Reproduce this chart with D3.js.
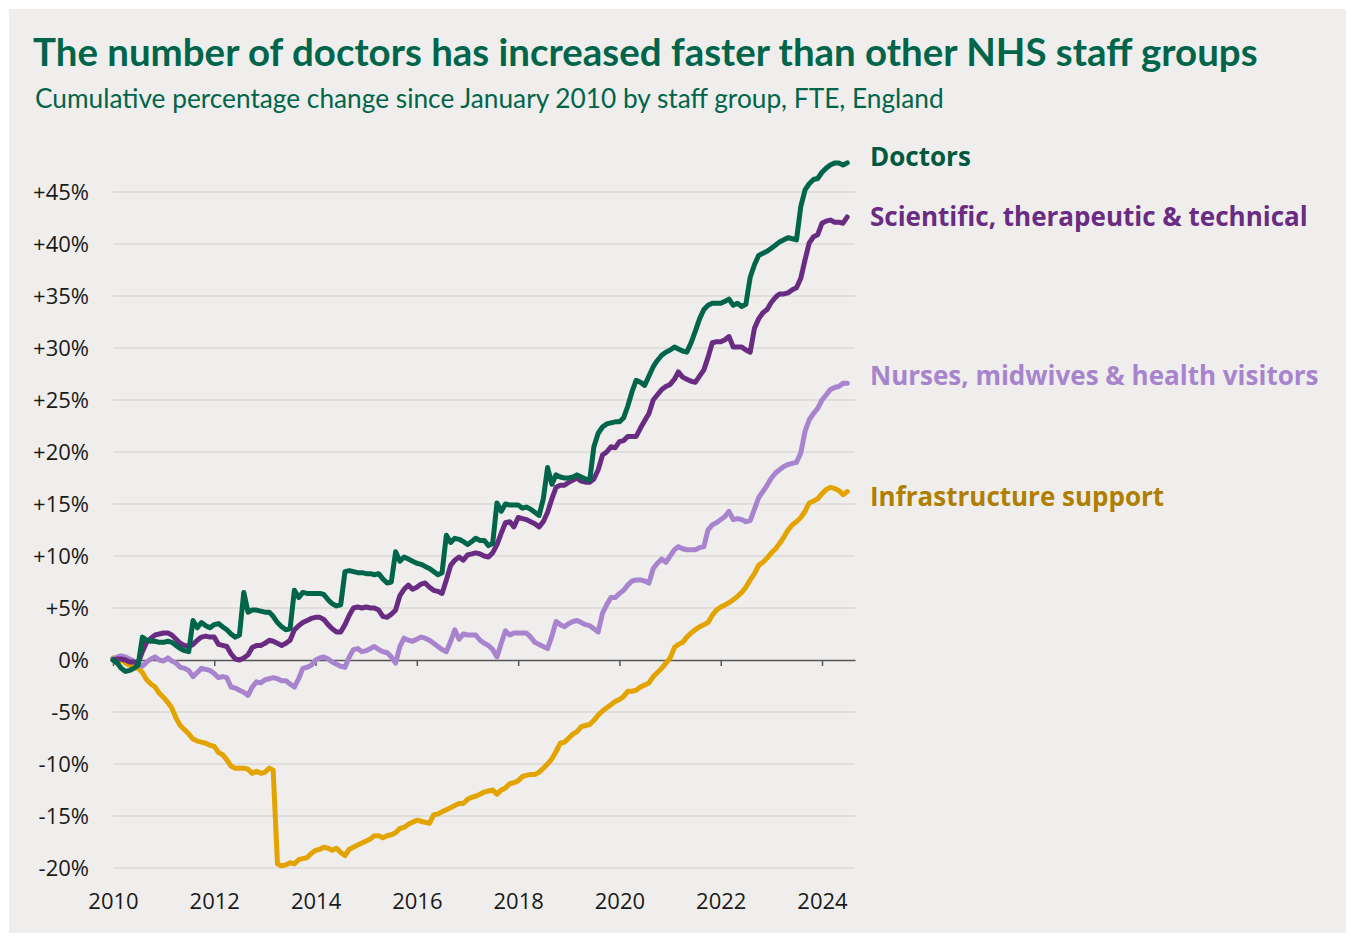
<!DOCTYPE html>
<html>
<head>
<meta charset="utf-8">
<script src="https://cdn.jsdelivr.net/npm/d3@7"></script>
<style>
  body { margin: 0; background: #fff; }
  svg { display: block; }
</style>
</head>
<body>
<script>
// monthly values, Jan 2010 .. Jul 2024 (% change since Jan 2010)
const doctors = [
  0, -0.3, -0.8, -1.1, -1.0, -0.8, -0.5, 2.2, 1.9, 1.8, 1.8, 1.7,
  1.7, 1.8, 1.7, 1.4, 1.1, 0.9, 0.8, 3.8, 3.1, 3.6, 3.3, 3.1,
  3.4, 3.5, 3.2, 2.9, 2.5, 2.2, 2.4, 6.5, 4.6, 4.8, 4.8, 4.7,
  4.6, 4.6, 4.2, 3.6, 3.2, 2.9, 3.0, 6.7, 6.0, 6.5, 6.4, 6.4,
  6.4, 6.4, 6.3, 5.8, 5.4, 5.2, 5.3, 8.5, 8.6, 8.5, 8.4, 8.4,
  8.3, 8.3, 8.2, 8.3, 7.8, 7.4, 7.5, 10.4, 9.5, 9.9, 9.7, 9.5,
  9.3, 9.2, 9.0, 8.8, 8.5, 8.2, 8.4, 12.0, 11.3, 11.7, 11.6, 11.4,
  11.1, 11.4, 11.7, 11.5, 11.5, 11.0, 11.2, 15.1, 14.3, 15.0, 14.9, 14.9,
  14.9, 14.6, 14.7, 14.5, 14.2, 13.9, 15.5, 18.5, 16.9, 17.8, 17.6, 17.5,
  17.5, 17.6, 17.8, 17.6, 17.4, 17.3, 20.5, 21.8, 22.4, 22.7, 22.8, 22.9,
  22.9, 23.3, 24.4, 25.8, 26.9, 26.7, 26.4, 27.3, 28.2, 28.8, 29.3, 29.6,
  29.8, 30.1, 29.9, 29.7, 29.6, 30.5, 31.6, 32.8, 33.7, 34.1, 34.3, 34.3,
  34.3, 34.5, 34.7, 34.1, 34.3, 34.0, 34.2, 36.8, 38.0, 38.9, 39.1, 39.3,
  39.6, 39.9, 40.2, 40.4, 40.6, 40.5, 40.4, 43.6, 45.2, 45.8, 46.2, 46.3,
  46.9, 47.3, 47.6, 47.8, 47.8, 47.6, 47.8
];
const scientific = [
  0, 0.1, 0.1, 0.0, -0.2, -0.2, -0.3, 0.8, 1.7, 2.1, 2.4, 2.5,
  2.6, 2.6, 2.4, 2.0, 1.6, 1.4, 1.3, 1.5, 1.9, 2.2, 2.3, 2.2,
  2.2, 1.5, 1.4, 1.3, 0.6, 0.1, 0.0, 0.2, 0.5, 1.2, 1.4, 1.4,
  1.6, 1.9, 1.8, 1.6, 1.4, 1.6, 1.9, 2.9, 3.3, 3.6, 3.8, 4.0,
  4.1, 4.1, 3.9, 3.4, 3.0, 2.7, 2.7, 3.4, 4.3, 5.0, 5.1, 5.0,
  5.1, 5.0, 5.0, 4.8, 4.2, 4.1, 4.4, 4.8, 6.2, 6.8, 7.2, 6.8,
  7.0, 7.3, 7.4, 7.0, 6.7, 6.6, 6.4, 7.7, 9.1, 9.6, 9.9, 9.6,
  10.1, 10.2, 10.3, 10.2, 10.0, 9.9, 10.3, 11.1, 12.2, 13.2, 13.3, 12.8,
  13.7, 13.6, 13.5, 13.3, 13.1, 12.8, 13.3, 14.2, 15.5, 16.6, 16.8, 16.8,
  17.1, 17.3, 17.5, 17.2, 17.1, 17.1, 17.4, 18.3, 19.7, 20.0, 20.5, 20.4,
  21.0, 21.1, 21.5, 21.5, 21.5, 22.3, 23.0, 23.7, 25.0, 25.5, 26.0, 26.3,
  26.5, 27.0, 27.7, 27.2, 27.0, 26.8, 26.7, 27.3, 27.9, 29.1, 30.5, 30.6,
  30.6, 30.8, 31.1, 30.1, 30.1, 30.1, 29.8, 29.6, 31.9, 32.8, 33.4, 33.7,
  34.4, 34.9, 35.2, 35.2, 35.3, 35.6, 35.8, 36.7, 38.5, 40.1, 40.7, 40.9,
  42.0, 42.2, 42.3, 42.1, 42.1, 42.0, 42.6
];
const nurses = [
  0.1, 0.3, 0.4, 0.3, 0.1, -0.1, -0.3, -0.6, -0.2, 0.1, 0.3, 0.0,
  -0.1, 0.2, -0.1, -0.3, -0.7, -0.8, -1.0, -1.6, -1.2, -0.8, -0.9, -1.0,
  -1.3, -1.7, -1.6, -1.7, -2.6, -2.7, -2.9, -3.1, -3.4, -2.6, -2.1, -2.2,
  -1.9, -1.8, -1.7, -1.8, -2.0, -2.0, -2.3, -2.6, -1.8, -0.8, -0.7, -0.5,
  0.0, 0.2, 0.3, 0.1, -0.2, -0.4, -0.6, -0.7, 0.3, 1.0, 1.1, 0.8,
  0.9, 1.1, 1.3, 1.0, 0.8, 0.7, 0.3, -0.3, 1.3, 2.1, 1.9, 1.8,
  2.0, 2.2, 2.1, 1.9, 1.6, 1.3, 1.0, 0.8, 1.8, 2.9, 2.0, 2.5,
  2.4, 2.4, 2.4, 1.9, 1.6, 1.4, 1.0, 0.3, 1.6, 2.8, 2.4, 2.6,
  2.6, 2.6, 2.6, 2.2, 1.7, 1.5, 1.3, 1.1, 2.3, 3.7, 3.4, 3.2,
  3.5, 3.7, 3.8, 3.6, 3.4, 3.3, 3.0, 2.7, 4.5, 5.3, 6.0, 6.0,
  6.4, 6.7, 7.2, 7.6, 7.7, 7.7, 7.6, 7.4, 8.8, 9.3, 9.7, 9.4,
  10.0, 10.6, 10.9, 10.7, 10.6, 10.6, 10.6, 10.8, 10.9, 12.5, 13.0, 13.2,
  13.5, 13.8, 14.3, 13.5, 13.6, 13.5, 13.3, 13.4, 14.5, 15.6, 16.2, 16.8,
  17.5, 18.0, 18.3, 18.6, 18.8, 18.9, 19.0, 19.9, 22.0, 23.1, 23.7, 24.2,
  25.0, 25.5, 26.0, 26.2, 26.3, 26.6, 26.6
];
const infrastructure = [
  0.2, -0.3, 0.1, -0.3, -0.5, -0.7, -0.8, -1.2, -1.9, -2.3, -2.6, -3.2,
  -3.6, -4.1, -4.6, -5.6, -6.3, -6.7, -7.1, -7.6, -7.8, -7.9, -8.0, -8.2,
  -8.3, -8.9, -9.1, -9.6, -10.2, -10.4, -10.4, -10.4, -10.5, -10.9, -10.7, -10.9,
  -10.8, -10.4, -10.6, -19.6, -19.8, -19.7, -19.5, -19.6, -19.2, -19.1, -19.0, -18.6,
  -18.3, -18.2, -18.0, -18.1, -18.3, -18.1, -18.5, -18.8, -18.2, -18.0, -17.8, -17.6,
  -17.4, -17.2, -16.9, -16.9, -17.1, -16.9, -16.8, -16.6, -16.2, -16.1, -15.8, -15.6,
  -15.4, -15.5, -15.6, -15.7, -14.9, -14.8, -14.6, -14.4, -14.2, -14.0, -13.8, -13.8,
  -13.4, -13.2, -13.1, -12.9, -12.7, -12.6, -12.5, -12.9, -12.5, -12.3, -11.9, -11.8,
  -11.6, -11.2, -11.1, -11.0, -11.0, -10.8, -10.4, -10.0, -9.5, -8.8, -8.0, -7.9,
  -7.5, -7.1, -6.9, -6.4, -6.3, -6.2, -5.8, -5.3, -4.9, -4.6, -4.3, -4.0,
  -3.8, -3.5, -3.0, -3.0, -2.9, -2.6, -2.4, -2.2, -1.6, -1.2, -0.8, -0.3,
  0.2, 1.2, 1.5, 1.7, 2.2, 2.6, 2.9, 3.2, 3.4, 3.6, 4.3, 4.8,
  5.1, 5.3, 5.5, 5.8, 6.1, 6.5, 7.0, 7.7, 8.3, 9.1, 9.4, 9.8,
  10.3, 10.7, 11.2, 11.8, 12.5, 13.0, 13.3, 13.7, 14.3, 15.1, 15.3, 15.5,
  16.0, 16.4, 16.6, 16.5, 16.3, 15.9, 16.2
];

const seriesNames = ["Doctors", "Scientific, therapeutic & technical", "Nurses, midwives & health visitors", "Infrastructure support"];
const seriesColors = ["#00654a", "#692c82", "#a784cd", "#e3a300"];
const labelColors = ["#00593f", "#692c82", "#a784cd", "#b07f00"];
const labelAt = [48.4, 42.6, 27.3, 15.7];   // where each end label sits
const yTicks = [-20, -15, -10, -5, 0, 5, 10, 15, 20, 25, 30, 35, 40, 45];
const xTickYears = [2010, 2012, 2014, 2016, 2018, 2020, 2022, 2024];

const months = d3.timeMonth.range(new Date(2010, 0, 1), new Date(2024, 7, 1));
const allSeries = [doctors, scientific, nurses, infrastructure];

const width = 1353, height = 936;
const svg = d3.select('body').append('svg')
  .attr('width', width).attr('height', height);

svg.append('rect')
  .attr('x', 9).attr('y', 9).attr('width', 1337).attr('height', 924)
  .attr('fill', '#efeeec');

const x = d3.scaleTime()
  .domain([new Date(2010, 0, 1), new Date(2024, 7, 26)])
  .range([113, 855]);
const y = d3.scaleLinear()
  .domain([-20, 45])
  .range([868, 192]);

// titles
const title = svg.append('text')
  .attr('x', 33).attr('y', 66)
  .attr('fill', '#00654a')
  .style('font-family', 'Lato, sans-serif')
  .style('font-weight', 700)
  .style('font-size', '32px')
  .text('The number of doctors has increased faster than other NHS staff groups');
const tw = title.node().getComputedTextLength();
title.style('font-size', (32 * 1225 / tw) + 'px');

const sub = svg.append('text')
  .attr('x', 35).attr('y', 108)
  .attr('fill', '#00654a')
  .style('font-family', 'Lato, sans-serif')
  .style('font-size', '22px')
  .text('Cumulative percentage change since January 2010 by staff group, FTE, England');
const sw = sub.node().getComputedTextLength();
sub.style('font-size', (22 * 909 / sw) + 'px');

// grid
svg.append('g')
  .selectAll('line')
  .data(yTicks.filter(d => d !== 0))
  .join('line')
    .attr('x1', 113).attr('x2', 855)
    .attr('y1', d => y(d)).attr('y2', d => y(d))
    .attr('stroke', '#dad8d6')
    .attr('stroke-width', 1.5);

// y labels
svg.append('g')
  .selectAll('text')
  .data(yTicks)
  .join('text')
    .attr('x', 89)
    .attr('y', d => y(d))
    .attr('dy', '0.35em')
    .attr('text-anchor', 'end')
    .attr('fill', '#1a1a1a')
    .style('font-family', '"Open Sans", sans-serif')
    .style('font-size', '22px')
    .text(d => d > 0 ? `+${d}%` : `${d}%`);

// x axis on zero line
const xAxis = d3.axisBottom(x)
  .tickValues(xTickYears.map(yr => new Date(yr, 0, 1)))
  .tickSize(6)
  .tickSizeOuter(0)
  .tickFormat(d3.timeFormat('%Y'));
const xg = svg.append('g')
  .attr('transform', `translate(0,${y(0)})`)
  .call(xAxis);
xg.select('.domain').attr('stroke', '#555').attr('stroke-width', 1.5);
xg.selectAll('.tick line').attr('stroke', '#555').attr('stroke-width', 1.5);
xg.selectAll('.tick text')
  .attr('y', 909 - y(0)).attr('dy', 0)
  .attr('fill', '#1a1a1a')
  .style('font-family', '"Open Sans", sans-serif')
  .style('font-size', '22px');

// lines
const line = d3.line()
  .x((d, i) => x(months[i]))
  .y(d => y(d));

svg.append('g')
  .selectAll('path')
  .data(allSeries.slice().reverse())
  .join('path')
    .attr('d', line)
    .attr('fill', 'none')
    .attr('stroke', (d, i) => seriesColors[3 - i])
    .attr('stroke-width', 5)
    .attr('stroke-linejoin', 'round')
    .attr('stroke-linecap', 'round');

// end labels
svg.append('g')
  .selectAll('text')
  .data(seriesNames)
  .join('text')
    .attr('x', 870)
    .attr('y', (d, i) => y(labelAt[i]))
    .attr('dy', '0.36em')
    .attr('fill', (d, i) => labelColors[i])
    .style('font-family', '"Open Sans", sans-serif')
    .style('font-weight', 700)
    .style('font-size', '26px')
    .text(d => d);
</script>
</body>
</html>
